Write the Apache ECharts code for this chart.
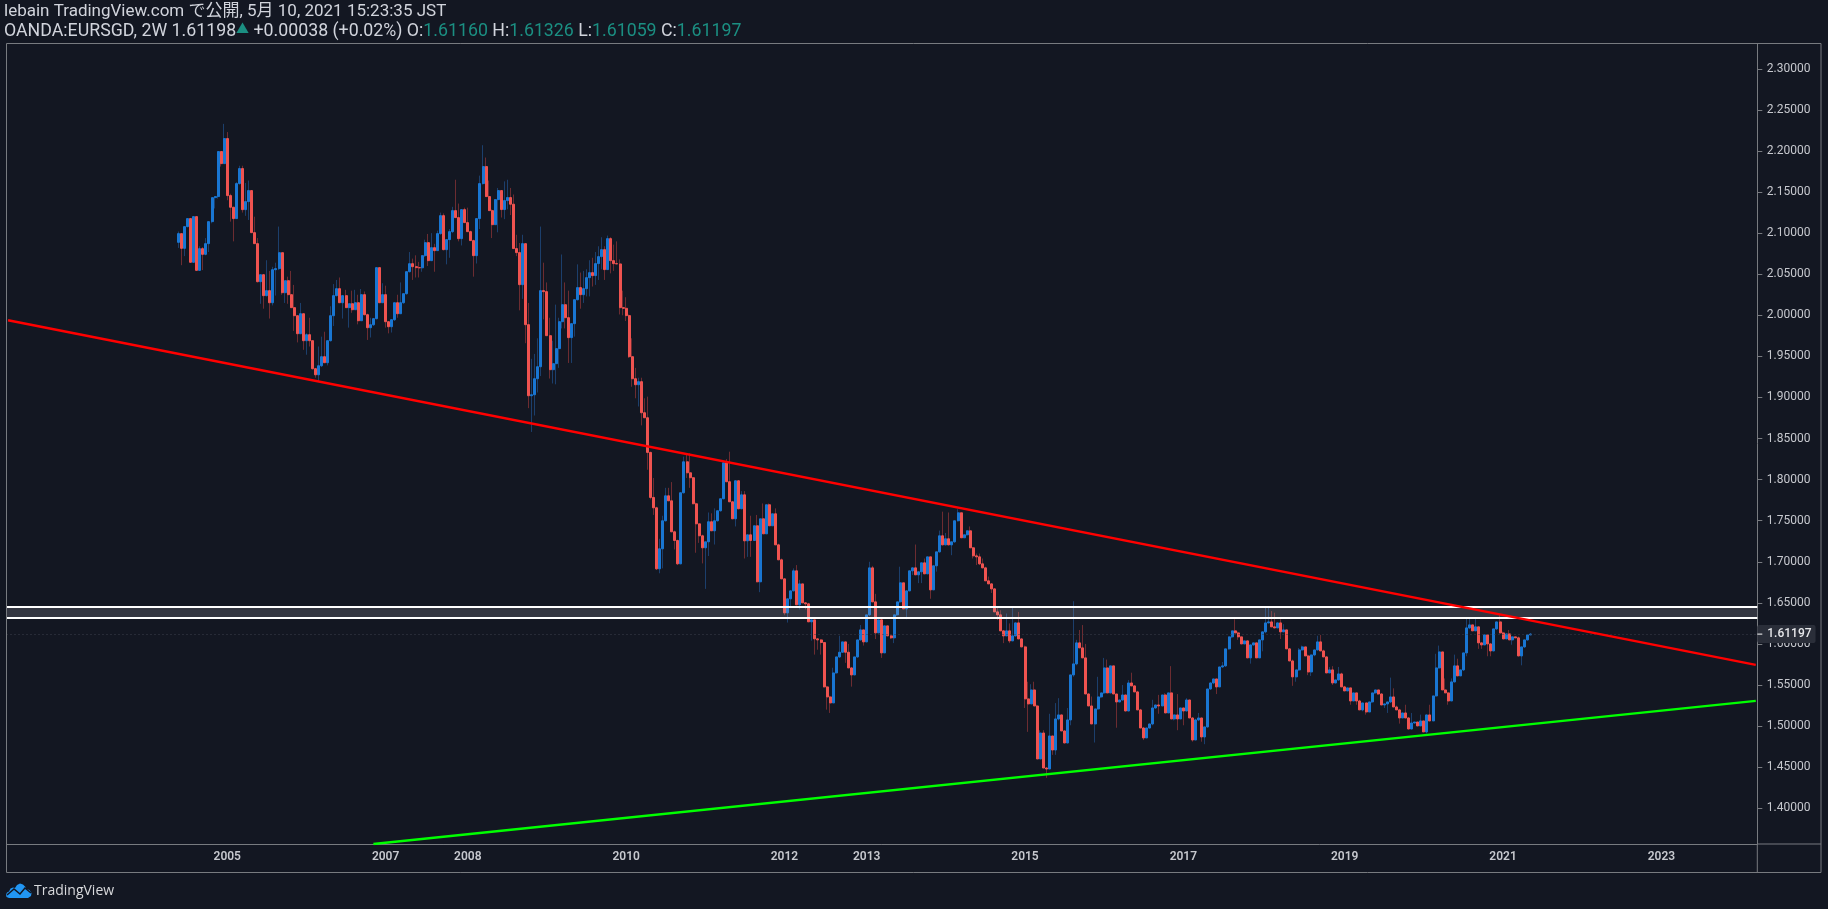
<!DOCTYPE html>
<html><head><meta charset="utf-8">
<style>html,body{margin:0;padding:0;background:#131722}#c{width:1828px;height:909px}</style>
<script src="https://cdn.jsdelivr.net/npm/echarts@6/dist/echarts.min.js"></script>
</head><body><div id="c"></div>
<script>
const tickYears=['2005','2007','2008','2010','2012','2013','2015','2017','2019','2021','2023'];
const barsBeforeFirstTick=72;
const barsBetweenTicks=[52,27,52,52,27,52,52,53,52,52];
const totalBars=575;
const barsBeforeData=56;
const yTicks=[2.30,2.25,2.20,2.15,2.10,2.05,2.00,1.95,1.90,1.85,1.80,1.75,1.70,1.65,1.60,1.55,1.50,1.45,1.40];
const firstOpen=2.0888;
const closes=[
2.0994,2.0815,2.1079,2.1177,2.0645,2.1201,2.0547,2.0811,2.0742,2.0872,
2.114,2.1432,2.1445,2.1993,2.1846,2.2151,2.1457,2.1315,2.1177,2.1603,
2.1786,2.1286,2.1384,2.1518,2.1006,2.0872,2.0409,2.0494,2.0239,2.03,
2.0153,2.0555,2.0568,2.0762,2.0275,2.0421,2.0251,2.0093,1.9995,1.9776,
2.0019,1.9691,1.9764,1.9691,1.935,1.9276,1.9386,1.9496,1.9423,1.9691,
1.9995,2.0239,2.0324,2.0153,2.0239,2.0093,2.0141,2.0068,2.0153,1.9934,
2.0251,2.0007,1.9849,1.9885,1.9959,2.058,2.0153,2.0251,1.9922,1.9861,
1.9946,2.0153,2.0019,2.0153,2.0263,2.0531,2.0628,2.0592,2.058,2.0578,
2.0726,2.0884,2.0665,2.0823,2.0787,2.0994,2.1213,2.0799,2.0921,2.1018,
2.1274,2.1189,2.0933,2.1286,2.1128,2.1018,2.0909,2.0726,2.1177,2.1603,
2.181,2.1445,2.1274,2.1103,2.1408,2.1518,
2.1287,2.1396,2.1433,2.1352,2.0812,2.0763,2.0373,2.0872,1.9886,1.9021,
1.9033,1.9228,1.9374,2.03,2.0288,1.9752,1.9338,1.9411,1.9594,1.9922,
2.0129,1.9971,1.9728,1.9898,2.019,2.0337,2.0251,2.0324,2.0458,2.0519,
2.0483,2.0629,2.0714,2.0799,2.0556,2.0933,2.0665,2.0629,2.0625,2.0093,
2.0085,1.9996,1.9496,1.9228,1.9155,1.9192,1.8814,1.8753,1.8331,
1.7783,1.7657,1.6914,1.7158,1.7499,1.7803,1.7742,1.7365,1.7259,1.6975,
1.784,1.8217,1.8083,1.8023,1.7706,1.7462,1.7316,1.717,1.7243,1.7487,
1.7377,1.7499,1.7621,1.7767,1.8205,1.7974,1.773,1.7523,1.7986,1.7645,
1.7815,1.7255,1.7328,1.7259,1.7438,1.6756,1.7523,1.734,1.7694,1.7438,
1.7584,1.7206,1.7024,1.6792,1.6378,1.6549,1.6646,1.689,1.6476,1.6731,
1.65,1.6488,1.6269,1.6293,1.6062,1.6049,1.6017,1.5477,1.5355,1.5282,
1.5647,1.5842,1.5899,1.6025,1.5899,1.5708,1.5623,1.5842,1.6049,1.6171,
1.6025,1.6354,1.6926,1.6512,1.6135,1.6293,1.5891,1.622,1.6098,1.6074,
1.6354,1.6512,1.6744,1.6427,1.6646,1.689,1.6926,1.6841,1.6878,1.6987,
1.6853,1.706,1.6658,1.6951,1.7121,1.7316,1.7206,1.728,1.7206,1.7243,
1.7499,1.7596,1.7292,1.7328,1.7377,1.717,
1.7072,1.706,1.6975,1.6926,1.6768,1.6731,1.667,1.639,1.6354,1.6159,
1.6098,1.6159,1.6037,1.6098,1.6256,1.6061,1.5964,1.5331,1.527,1.544,
1.5245,1.46,1.4916,1.449,1.4478,1.488,1.4709,1.5087,1.5136,1.4941,
1.4795,1.5075,1.5623,1.5757,1.6013,1.5952,1.583,1.5391,1.5245,1.5026,
1.5209,1.5355,1.5404,1.5708,1.5404,1.5733,1.5391,1.5294,1.5318,1.5379,
1.5184,1.5525,1.5489,1.5416,1.5197,1.4977,1.4856,1.4977,1.5026,1.5221,
1.5257,1.5245,1.5379,1.516,1.5404,1.5087,1.5136,1.5087,1.5221,1.5184,
1.5318,1.5099,1.4831,1.5075,1.5099,1.4868,1.499,1.5452,1.5525,1.5574,
1.5477,1.572,1.5733,1.594,1.6086,1.6159,1.6134,1.6086,1.6,1.6037,
1.583,1.5988,1.6013,1.583,1.6049,
1.6147,1.6256,1.6268,1.6208,1.6195,1.6256,1.6147,1.6171,1.594,1.5793,
1.5599,1.5684,1.5927,1.5964,1.5854,1.5659,1.5866,1.5927,1.6025,1.5915,
1.5842,1.5647,1.5684,1.5525,1.5562,1.5635,1.5477,1.5428,1.5465,1.5306,
1.5404,1.5306,1.5197,1.5282,1.5172,1.5294,1.5404,1.544,1.5391,1.5257,
1.527,1.5294,1.5355,1.5233,1.5197,1.5099,1.516,1.5099,1.4965,1.5038,
1.505,1.5002,1.5063,1.4929,1.5136,1.5063,1.5367,1.5708,1.5903,1.544,
1.5404,1.5306,1.5538,1.5733,1.5611,1.5684,1.5891,1.6195,1.6232,1.6159,
1.6208,1.6013,1.5988,1.611,1.6,1.5915,1.6183,1.6268,1.6134,1.6061,
1.6122,1.6049,1.6086,1.6074,1.5854,1.5964,1.6049,1.611,1.61197];
const highs=[
2.102,2.099,2.108,2.118,2.118,2.120,2.120,2.084,2.083,2.094,
2.114,2.143,2.145,2.199,2.199,2.233,2.223,2.148,2.132,2.162,
2.182,2.182,2.161,2.164,2.152,2.120,2.094,2.049,2.050,2.067,
2.054,2.059,2.064,2.108,2.076,2.042,2.047,2.054,2.037,2.000,
2.015,2.002,1.978,1.997,1.969,1.936,1.962,1.974,1.980,1.969,
2.011,2.038,2.043,2.046,2.024,2.031,2.014,2.030,2.031,2.025,
2.032,2.029,2.002,1.997,1.996,2.058,2.058,2.039,2.036,1.993,
1.995,2.015,2.025,2.040,2.026,2.053,2.077,2.069,2.073,2.065,
2.073,2.092,2.099,2.100,2.087,2.103,2.125,2.124,2.092,2.105,
2.132,2.165,2.136,2.129,2.131,2.131,2.103,2.092,2.118,2.170,
2.207,2.192,2.164,2.129,2.141,2.155,
2.152,2.163,2.165,2.155,2.147,2.098,2.088,2.098,2.087,2.015,
1.947,1.953,1.972,2.108,2.064,2.040,1.997,1.969,2.013,1.997,
2.074,2.040,2.030,1.990,2.019,2.062,2.052,2.054,2.056,2.067,
2.070,2.077,2.084,2.095,2.084,2.097,2.095,2.086,2.090,2.068,
2.030,2.022,2.001,1.972,1.936,1.924,1.924,1.899,1.901,
1.834,1.802,1.767,1.728,1.756,1.790,1.790,1.797,1.738,1.727,
1.784,1.828,1.832,1.832,1.803,1.772,1.732,1.733,1.724,1.760,
1.759,1.765,1.762,1.777,1.821,1.825,1.834,1.774,1.799,1.799,
1.786,1.786,1.733,1.756,1.744,1.757,1.752,1.771,1.769,1.771,
1.758,1.765,1.722,1.704,1.680,1.655,1.665,1.692,1.696,1.678,
1.673,1.651,1.650,1.629,1.629,1.607,1.606,1.602,1.549,1.537,
1.571,1.584,1.610,1.602,1.602,1.600,1.572,1.584,1.605,1.623,
1.617,1.635,1.700,1.695,1.661,1.629,1.630,1.622,1.622,1.611,
1.635,1.651,1.694,1.674,1.665,1.689,1.693,1.721,1.688,1.699,
1.704,1.706,1.706,1.695,1.712,1.738,1.761,1.735,1.760,1.724,
1.750,1.764,1.760,1.733,1.738,1.743,
1.718,1.710,1.710,1.704,1.694,1.682,1.674,1.668,1.646,1.641,
1.617,1.637,1.625,1.644,1.626,1.639,1.607,1.598,1.554,1.551,
1.554,1.526,1.495,1.495,1.450,1.515,1.488,1.528,1.534,1.514,
1.495,1.522,1.562,1.652,1.605,1.617,1.623,1.600,1.540,1.536,
1.521,1.560,1.540,1.583,1.581,1.573,1.573,1.539,1.532,1.550,
1.538,1.556,1.565,1.550,1.543,1.521,1.499,1.498,1.503,1.532,
1.526,1.538,1.538,1.540,1.540,1.573,1.514,1.539,1.522,1.522,
1.534,1.532,1.511,1.509,1.516,1.510,1.499,1.545,1.553,1.557,
1.557,1.572,1.578,1.594,1.609,1.616,1.630,1.615,1.609,1.604,
1.604,1.599,1.601,1.601,1.605,
1.615,1.644,1.644,1.640,1.638,1.626,1.630,1.624,1.617,1.595,
1.581,1.568,1.595,1.598,1.596,1.587,1.587,1.593,1.610,1.611,
1.593,1.585,1.572,1.573,1.556,1.572,1.565,1.549,1.546,1.546,
1.540,1.540,1.532,1.528,1.528,1.529,1.540,1.544,1.544,1.540,
1.527,1.529,1.559,1.546,1.525,1.521,1.516,1.526,1.511,1.516,
1.505,1.505,1.514,1.506,1.514,1.526,1.537,1.588,1.598,1.590,
1.558,1.541,1.558,1.587,1.582,1.568,1.589,1.631,1.631,1.623,
1.631,1.621,1.602,1.611,1.611,1.601,1.618,1.627,1.635,1.615,
1.612,1.617,1.609,1.609,1.609,1.596,1.605,1.611,1.61326];
const lows=[
2.082,2.061,2.072,2.107,2.064,2.064,2.054,2.054,2.055,2.073,
2.077,2.112,2.130,2.142,2.181,2.185,2.140,2.114,2.090,2.118,
2.159,2.125,2.121,2.116,2.100,2.087,2.040,2.014,2.008,2.023,
1.996,2.012,2.024,2.055,2.025,2.015,2.014,2.009,1.981,1.967,
1.977,1.958,1.952,1.962,1.934,1.924,1.919,1.937,1.942,1.939,
1.968,1.987,2.023,2.015,1.996,2.009,1.985,2.003,2.007,1.989,
1.993,2.000,1.970,1.973,1.987,1.995,2.015,2.015,1.985,1.978,
1.979,1.993,1.997,2.002,2.014,2.025,2.052,2.043,2.046,2.046,
2.053,2.071,2.060,2.066,2.053,2.079,2.098,2.079,2.062,2.070,
2.100,2.119,2.090,2.085,2.113,2.102,2.091,2.047,2.063,2.105,
2.159,2.144,2.127,2.094,2.110,2.101,
2.119,2.117,2.129,2.122,2.081,2.072,2.006,2.020,1.966,1.887,
1.858,1.878,1.906,1.926,1.995,1.975,1.923,1.917,1.916,1.936,
1.984,1.984,1.942,1.942,1.974,2.018,2.008,2.015,2.023,2.023,
2.035,2.037,2.043,2.056,2.043,2.056,2.051,2.054,2.063,2.001,
2.000,1.993,1.948,1.913,1.899,1.889,1.866,1.875,1.812,
1.776,1.757,1.690,1.686,1.692,1.749,1.774,1.736,1.715,1.696,
1.697,1.783,1.802,1.790,1.770,1.711,1.723,1.698,1.667,1.707,
1.738,1.721,1.749,1.761,1.776,1.797,1.773,1.752,1.743,1.764,
1.764,1.704,1.706,1.706,1.726,1.675,1.663,1.734,1.734,1.744,
1.744,1.721,1.702,1.679,1.635,1.626,1.646,1.664,1.648,1.642,
1.650,1.642,1.627,1.604,1.587,1.593,1.587,1.547,1.520,1.516,
1.528,1.564,1.583,1.589,1.577,1.571,1.548,1.562,1.583,1.604,
1.598,1.602,1.634,1.651,1.606,1.613,1.583,1.589,1.610,1.606,
1.601,1.634,1.650,1.643,1.630,1.664,1.684,1.684,1.674,1.674,
1.685,1.685,1.655,1.666,1.688,1.711,1.720,1.720,1.720,1.708,
1.723,1.749,1.729,1.729,1.732,1.717,
1.704,1.696,1.696,1.692,1.677,1.673,1.662,1.639,1.629,1.616,
1.601,1.610,1.601,1.604,1.609,1.606,1.596,1.522,1.493,1.527,
1.525,1.460,1.460,1.449,1.437,1.448,1.465,1.465,1.507,1.494,
1.479,1.479,1.501,1.560,1.574,1.595,1.583,1.539,1.525,1.503,
1.480,1.520,1.534,1.539,1.540,1.540,1.539,1.498,1.529,1.531,
1.518,1.518,1.549,1.542,1.520,1.498,1.483,1.486,1.497,1.501,
1.521,1.515,1.525,1.516,1.516,1.509,1.507,1.495,1.509,1.501,
1.518,1.510,1.481,1.483,1.506,1.481,1.478,1.498,1.544,1.551,
1.539,1.548,1.571,1.572,1.593,1.607,1.613,1.605,1.600,1.600,
1.583,1.576,1.598,1.583,1.583,
1.591,1.613,1.625,1.621,1.619,1.620,1.606,1.615,1.594,1.579,
1.549,1.554,1.567,1.592,1.585,1.562,1.561,1.585,1.592,1.592,
1.584,1.565,1.565,1.550,1.552,1.555,1.548,1.543,1.543,1.526,
1.531,1.526,1.520,1.518,1.514,1.517,1.528,1.539,1.538,1.526,
1.522,1.516,1.528,1.523,1.520,1.503,1.510,1.510,1.496,1.496,
1.503,1.500,1.500,1.493,1.491,1.506,1.506,1.536,1.570,1.544,
1.540,1.526,1.531,1.553,1.561,1.561,1.567,1.585,1.618,1.616,
1.616,1.594,1.594,1.599,1.585,1.585,1.591,1.617,1.613,1.606,
1.606,1.605,1.599,1.607,1.585,1.574,1.595,1.604,1.61059];
const opens=closes.map((c,i)=>i?closes[i-1]:firstOpen);
const lastPrice=1.61197;
const redTrend=[1.9939,1.5745];
const greenTrend=[1.3565,1.5307];
const greenStartBar=120;
const zone=[1.6317,1.6455];
const yMin=1.3565,yMax=2.3308;

const tickBars={};let b=barsBeforeFirstTick;
tickYears.forEach((y,i)=>{tickBars[b]=y;b+=barsBetweenTicks[i]||0;});
const categories=[];for(let i=0;i<totalBars;i++)categories.push(tickBars[i]||('bar'+i));
const isTick=(i,v)=>tickYears.includes(v);
const pad=Array.from({length:barsBeforeData},()=>['-','-','-','-']);
const wickRows=pad.concat(closes.map((c,i)=>[opens[i],c,lows[i],highs[i]]));
const bodyRows=pad.concat(closes.map((c,i)=>[opens[i],c,Math.min(opens[i],c),Math.max(opens[i],c)]));
const FF='Roboto,"Noto Sans CJK JP",sans-serif';
const frame='#787b80',txt='#c6c8ce',teal='#1b8f82';
const chart=echarts.init(document.getElementById('c'),null,{renderer:'canvas'});
chart.setOption({
 animation:false,backgroundColor:'#131722',
 title:[
  {left:4,top:3,padding:0,text:'lebain TradingView.com で公開, 5月 10, 2021 15:23:35 JST',textStyle:{fontFamily:FF,fontSize:17,fontWeight:'normal',color:'#d1d4dc'}},
  {left:4,top:23,padding:0,text:'{a|OANDA:EURSGD, 2W 1.61198}{t|▲}{a| +0.00038 (+0.02%) O:}{n|1.61160}{a| H:}{n|1.61326}{a| L:}{n|1.61059}{a| C:}{n|1.61197}',
   textStyle:{fontWeight:'normal',rich:{a:{fontFamily:FF,fontSize:17.75,fontWeight:'normal',color:'#d1d4dc'},n:{fontFamily:FF,fontSize:17.75,fontWeight:'normal',color:teal},t:{fontFamily:FF,fontSize:13,color:teal,verticalAlign:'top'}}}}
 ],
 grid:{left:6.5,right:70.7,top:43.5,bottom:65,containLabel:false},
 xAxis:{type:'category',data:categories,boundaryGap:true,
  axisLine:{lineStyle:{color:frame,width:1}},
  axisTick:{interval:isTick,alignWithLabel:true,length:4,lineStyle:{color:frame}},
  axisLabel:{interval:isTick,margin:7,fontFamily:FF,fontSize:12,fontWeight:600,color:txt,hideOverlap:false},
  splitLine:{show:false}},
 yAxis:{type:'value',position:'right',min:yMin,max:yMax,scale:true,
  axisLine:{show:true,lineStyle:{color:frame,width:1}},
  axisTick:{show:true,length:5,customValues:yTicks,lineStyle:{color:frame}},
  axisLabel:{customValues:yTicks,margin:9.5,padding:[4,0,0,0],fontFamily:FF,fontSize:12,color:txt,formatter:v=>v.toFixed(5),showMinLabel:true,showMaxLabel:true},
  splitLine:{show:false}},
 series:[
  {type:'candlestick',name:'wicks',data:wickRows,barWidth:1,animation:false,progressive:0,z:2,
   itemStyle:{color:'#1c3f6c',color0:'#6c2c31',borderColor:'#1c3f6c',borderColor0:'#6c2c31',borderWidth:1}},
  {type:'candlestick',name:'bodies',data:bodyRows,barWidth:2.5,animation:false,progressive:0,z:3,
   itemStyle:{color:'#1976d2',color0:'#ef5350',borderColor:'#1976d2',borderColor0:'#ef5350',borderWidth:1}},
  {type:'line',name:'zone',data:[],z:5,silent:true,
   markArea:{silent:true,z:5,itemStyle:{color:'rgba(178,181,190,0.2)'},data:[[{yAxis:zone[0]},{yAxis:zone[1]}]]},
   markLine:{silent:true,symbol:'none',z:6,animation:false,precision:5,label:{show:false},
    data:[{yAxis:zone[0],lineStyle:{color:'#ffffff',width:2,type:'solid'}},{yAxis:zone[1],lineStyle:{color:'#ffffff',width:2,type:'solid'}}]}},
  {type:'line',name:'price',data:[],z:7,silent:true,
   markLine:{silent:true,symbol:'none',z:7,animation:false,precision:5,
    lineStyle:{color:'#3d414c',width:1,type:[1,3]},
    label:{show:true,position:'end',distance:0,formatter:()=>'{d|}{v|'+lastPrice.toFixed(5)+'}',backgroundColor:'#2a2e39',borderRadius:2,padding:[3,4,3,0],
     rich:{d:{width:5,height:1,backgroundColor:'#ffffff'},v:{fontFamily:FF,fontSize:12,fontWeight:500,color:'#e6e7ea',padding:[0,0,0,5]}}},
    data:[{yAxis:lastPrice}]}},
  {type:'line',name:'red trend',data:[[categories[0],redTrend[0]],[categories[totalBars-1],redTrend[1]]],showSymbol:false,clip:true,z:8,silent:true,
   lineStyle:{color:'#ff0000',width:2.4},itemStyle:{color:'#ff0000'}},
  {type:'line',name:'green trend',data:[[categories[greenStartBar],greenTrend[0]],[categories[totalBars-1],greenTrend[1]]],showSymbol:false,clip:true,z:8,silent:true,
   lineStyle:{color:'#00ff00',width:2.4},itemStyle:{color:'#00ff00'}}
 ],
 graphic:[
  {type:'rect',silent:true,z:20,shape:{x:6.5,y:43.5,width:1814.5,height:829},style:{fill:'none',stroke:frame,lineWidth:1}},
  {type:'line',silent:true,z:20,shape:{x1:1757.3,y1:844,x2:1757.3,y2:872},style:{stroke:frame,lineWidth:1}},
  {type:'line',silent:true,z:20,shape:{x1:1757.3,y1:844,x2:1821,y2:844},style:{stroke:frame,lineWidth:1}},
  {type:'polygon',silent:true,z:20,x:6,y:883,shape:{points:[[3,15],[0.5,14],[0,11.5],[1,9.5],[3,8.5],[4.5,5.5],[7,4.5],[9,5],[11,2],[14,0.5],[17,1.5],[19.5,4],[20,6],[23.5,7],[25.5,10],[25,13],[22,15]]},style:{fill:'#2196f3'}},
  {type:'polyline',silent:true,z:21,x:6,y:883,shape:{points:[[1,12],[8,6],[14,11],[19,5],[25,10]]},style:{stroke:'#131722',lineWidth:1.5,fill:'none'}},
  {type:'text',silent:true,z:20,x:34,y:884,style:{text:'TradingView',font:'14px "Open Sans",sans-serif',fill:'#d8d9dc'}}
 ]
});
</script></body></html>
